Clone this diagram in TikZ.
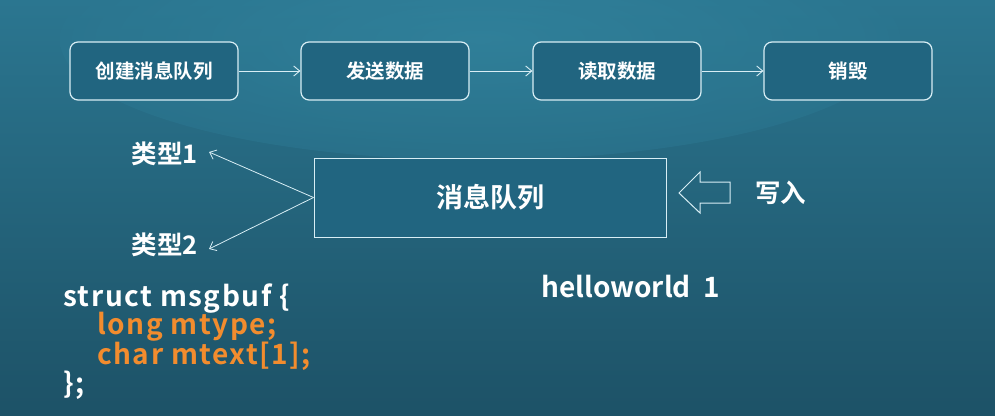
\documentclass[tikz,border=0pt]{standalone}
\usepackage{fontspec}
\setmainfont{Noto Sans}
\newfontfamily\cjkb{Noto Sans CJK SC Bold}
\newfontfamily\codefont{Noto Sans CJK SC Bold}[LetterSpace=5.5]
\usetikzlibrary{arrows.meta}
\definecolor{bgtop}{HTML}{2B7690}
\definecolor{bgbot}{HTML}{1D5267}
\definecolor{bghi}{HTML}{3488A2}
\definecolor{boxfill}{HTML}{216580}
\definecolor{edge}{HTML}{D8EEF5}
\definecolor{codeor}{HTML}{F28C2E}
\tikzset{
  stepbox/.style={draw=edge, line width=1.2pt, rounded corners=8pt, fill=boxfill,
    minimum width=168pt, minimum height=58pt, inner sep=0pt,
    text=white, font=\cjkb\fontsize{19.5}{22}\selectfont},
  flow/.style={draw=edge, line width=0.9pt, -{Straight Barb[length=6pt,width=10pt]}},
  label/.style={text=white, font=\cjkb\fontsize{25.5}{28}\selectfont, inner sep=0pt},
  code/.style={font=\codefont\fontsize{28}{30}\selectfont, inner sep=0pt, anchor=base west},
  plain/.style={font=\cjkb\fontsize{28}{30}\selectfont, inner sep=0pt, anchor=base west}
}
\begin{document}
\begin{tikzpicture}[x=1pt,y=-1pt]
\useasboundingbox (0,0) rectangle (995,415);
\begin{scope}
\clip (0,0) rectangle (995,415);
\shade[top color=bgtop, bottom color=bgbot] (0,0) rectangle (995,415);
\shade[inner color=bghi, outer color=bgtop, opacity=0.6] (480,40) ellipse (420 and 120);
\end{scope}
\node[stepbox] (s1) at (154,71) {创建消息队列};
\node[stepbox] (s2) at (385,71) {发送数据};
\node[stepbox] (s3) at (617,71) {读取数据};
\node[stepbox] (s4) at (848,71) {销毁};
\draw[flow] (s1) -- (s2);
\draw[flow] (s2) -- (s3);
\draw[flow] (s3) -- (s4);
\node[draw=edge, line width=1pt, fill=boxfill, minimum width=352pt, minimum height=79pt,
  text=white, font=\cjkb\fontsize{27}{30}\selectfont] (mq) at (490,197.5) {消息队列};
\node[label, anchor=east] (t1) at (198,154) {类型1};
\node[label, anchor=east] (t2) at (198,245) {类型2};
\coordinate (e1) at (209,152);
\coordinate (e2) at (209,249);
\draw[flow, line width=0.8pt] (mq.west) -- (e1);
\draw[flow, line width=0.8pt] (mq.west) -- (e2);
\draw[edge, line width=1pt] (679,193) -- (700,172) -- (700,182) -- (730,182) -- (730,203) -- (700,203) -- (700,213) -- cycle;
\node[label, anchor=west] (wr) at (755,193) {写入};
\node[code, text=white] (c1) at (63,306) {struct msgbuf \{};
\node[code, text=codeor] (c2) at (97,334) {long mtype;};
\node[code, text=codeor] (c3) at (97,364) {char mtext[1];};
\node[code, text=white] (c4) at (63,393) {\};};
\node[plain, text=white] (hw) at (541,297) {helloworld\ \ 1};
\end{tikzpicture}
\end{document}
